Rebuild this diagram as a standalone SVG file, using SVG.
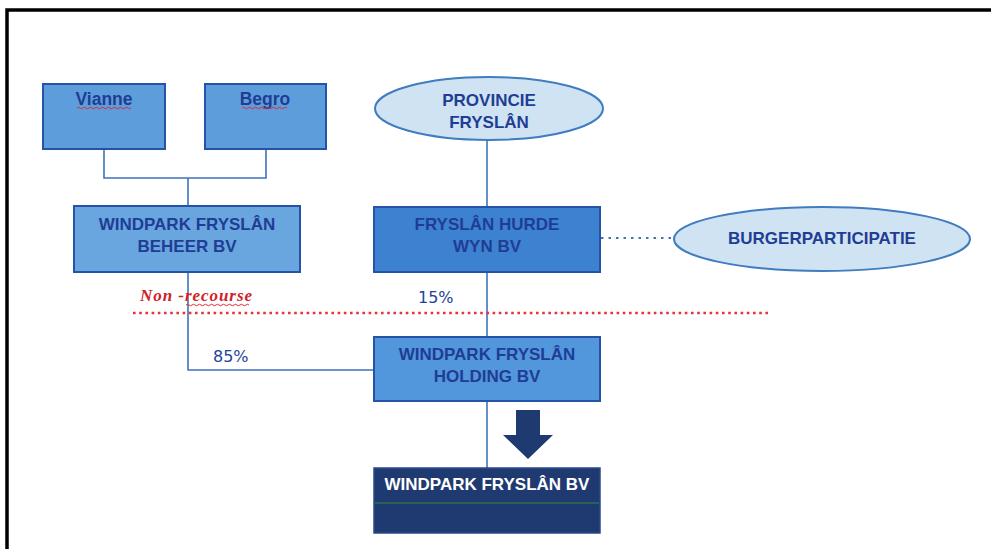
<svg xmlns="http://www.w3.org/2000/svg" width="991" height="549" viewBox="0 0 991 549">
<style>
.box{stroke:#2553a8;stroke-width:2}
.ell{fill:#cfe3f3;stroke:#3f7cc0;stroke-width:2}
.t{font-family:"Liberation Sans",Arial,sans-serif;font-size:17px;font-weight:bold;fill:#1f3d94;text-anchor:middle}
.pct{font-family:"DejaVu Sans",Verdana,sans-serif;font-size:16px;fill:#24439a}
.ln{fill:none;stroke:#3f73b8;stroke-width:1.6}
.sq{fill:none;stroke:#e02a3a;stroke-width:1}
</style>
<rect x="0" y="0" width="991" height="549" fill="#ffffff"/>
<rect x="7" y="10" width="1000" height="600" fill="none" stroke="#000" stroke-width="3.5"/>
<g id="connectors">
<path class="ln" d="M104,149 V178 H266 V149 M188,178 V206"/>
<path class="ln" d="M487,140 V207"/>
<path class="ln" d="M188,272 V370 H374"/>
<path class="ln" d="M487,272 V337"/>
<path class="ln" d="M487,401 V468"/>
<path d="M601,238 H674" fill="none" stroke="#3f73b8" stroke-width="2.2" stroke-dasharray="2.5 5"/>
<path d="M133,313 H770" fill="none" stroke="#e8333a" stroke-width="2.6" stroke-dasharray="2.6 3.6"/>
<path d="M516,410 H540 V435 H553 L528,459 L503,435 H516 Z" fill="#1f3a70"/>
</g>
<g id="vianne">
<rect class="box" x="43" y="84" width="122" height="65" fill="#5d9ddb"/>
<text class="t" x="104" y="105" font-size="17.5" style="font-size:17.5px">Vianne</text>
<path class="sq" d="M77,108 q1.5,-1.5 3,0 t3,0 t3,0 t3,0 t3,0 t3,0 t3,0 t3,0 t3,0 t3,0 t3,0 t3,0 t3,0 t3,0 t3,0 t3,0 t3,0 t3,0"/>
</g>
<g id="begro">
<rect class="box" x="205" y="84" width="121" height="65" fill="#5d9ddb"/>
<text class="t" x="265" y="105" style="font-size:17.5px">Begro</text>
<path class="sq" d="M242,108 q1.5,-1.5 3,0 t3,0 t3,0 t3,0 t3,0 t3,0 t3,0 t3,0 t3,0 t3,0 t3,0 t3,0 t3,0 t3,0 t3,0"/>
</g>
<g id="provincie">
<ellipse class="ell" cx="489" cy="108.5" rx="114" ry="31.5"/>
<text class="t" x="489" y="106">PROVINCIE</text>
<text class="t" x="489" y="128">FRYSLÂN</text>
</g>
<g id="beheer">
<rect class="box" x="74" y="206" width="226" height="66" fill="#69a6df"/>
<text class="t" x="187" y="230">WINDPARK FRYSLÂN</text>
<text class="t" x="187" y="252">BEHEER BV</text>
</g>
<g id="hurde">
<rect class="box" x="374" y="207" width="226" height="65" fill="#3d82d0"/>
<text class="t" x="487" y="230">FRYSLÂN HURDE</text>
<text class="t" x="487" y="252">WYN BV</text>
</g>
<g id="burger">
<ellipse class="ell" cx="822" cy="239" rx="148" ry="32"/>
<text class="t" x="822" y="244">BURGERPARTICIPATIE</text>
</g>
<g id="labels">
<text x="140" y="301" font-family="'Liberation Serif','Times New Roman',serif" font-size="17" font-style="italic" font-weight="bold" fill="#d0202a" textLength="112">Non -recourse</text>
<path class="sq" d="M186,305 q1.5,-1.5 3,0 t3,0 t3,0 t3,0 t3,0 t3,0 t3,0 t3,0 t3,0 t3,0 t3,0 t3,0 t3,0 t3,0 t3,0 t3,0 t3,0 t3,0 t3,0 t3,0 t3,0"/>
<text class="pct" x="418" y="303">15%</text>
<text class="pct" x="213" y="362">85%</text>
</g>
<g id="holding">
<rect class="box" x="374" y="337" width="226" height="64" fill="#5296dc"/>
<text class="t" x="487" y="360">WINDPARK FRYSLÂN</text>
<text class="t" x="487" y="382">HOLDING BV</text>
</g>
<g id="windpark">
<rect x="374" y="468" width="226" height="65" fill="#1f3a70" stroke="#2a4a8a" stroke-width="1.5"/>
<line x1="375" y1="503" x2="599" y2="503" stroke="#2f8a3a" stroke-width="1"/>
<text class="t" x="487" y="490" style="fill:#ffffff">WINDPARK FRYSLÂN BV</text>
</g>
</svg>
